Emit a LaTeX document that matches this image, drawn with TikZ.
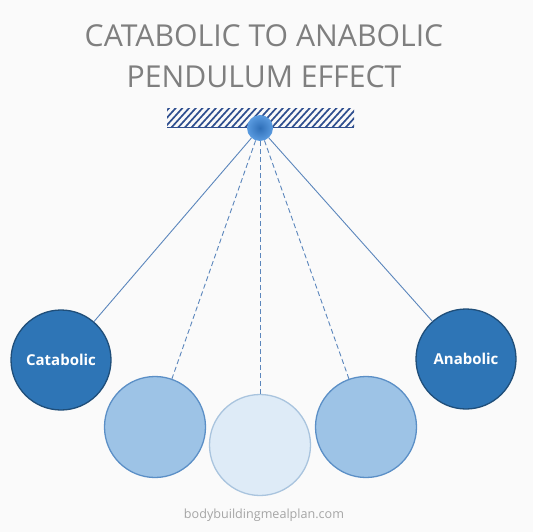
\documentclass[tikz,border=0pt]{standalone}
\usepackage{fontspec}
\setmainfont{Open Sans}
\usetikzlibrary{calc}
\definecolor{bgc}{HTML}{FAFAFA}
\definecolor{darkfill}{HTML}{2E75B6}
\definecolor{darkedge}{HTML}{1F4E79}
\definecolor{midfill}{HTML}{9DC3E6}
\definecolor{midedge}{HTML}{5B8FC6}
\definecolor{lightfill}{HTML}{DEEBF7}
\definecolor{lightedge}{HTML}{A9C4DE}
\definecolor{rope}{HTML}{5B86BC}
\definecolor{hatchc}{HTML}{2F4F8F}
\definecolor{titlec}{HTML}{7F7F7F}
\definecolor{ballout}{HTML}{5A9BE0}
\definecolor{ballin}{HTML}{2F6FB8}
\tikzset{
  bob/.style={circle, minimum size=#1, inner sep=0pt, line width=1.3pt},
  darkbob/.style={bob=100pt, fill=darkfill, draw=darkedge, text=white, font=\fontsize{15}{18}\selectfont\bfseries},
  midbob/.style={bob=101pt, fill=midfill, draw=midedge},
  lightbob/.style={bob=101pt, fill=lightfill, draw=lightedge},
  ropesolid/.style={draw=rope, line width=0.9pt},
  ropedash/.style={draw=rope, line width=0.9pt, dash pattern=on 5pt off 3pt},
}
\begin{document}
\begin{tikzpicture}[x=1pt,y=-1pt]
\fill[bgc] (0,0) rectangle (533,532);
\useasboundingbox (0,0) rectangle (533,532);
% title
\node[text=titlec, font=\fontsize{30.2}{41}\selectfont, anchor=base] (t1) at (264,47) {CATABOLIC TO ANABOLIC};
\node[text=titlec, font=\fontsize{30.2}{41}\selectfont, anchor=base] (t2) at (264,88) {PENDULUM EFFECT};
% hatch bar
\begin{scope}
\clip (167,109) rectangle (354,127);
\foreach \i in {0,...,32} {
  \draw[hatchc, line width=1.7pt] ({150+\i*6.7},129) -- ({170+\i*6.7},107);
}
\end{scope}
\draw[hatchc, line width=1.2pt] (167,127.5) -- (354,127.5);
% bobs
\node[darkbob] (cat) at (61,360) {Catabolic};
\node[midbob] (b2) at (155,427) {};
\node[lightbob] (b3) at (260,445) {};
\node[midbob] (b4) at (366,427) {};
\node[darkbob] (ana) at (466,359) {Anabolic};
% pivot
\node[circle, minimum size=26pt, inner sep=0pt, inner color=ballin, outer color=ballout] (piv) at (260,128) {};
% ropes
\draw[ropesolid] (piv) -- (cat);
\draw[ropesolid] (piv) -- (ana);
\draw[ropedash] (piv) -- (b2);
\draw[ropedash] (piv) -- (b3);
\draw[ropedash] (piv) -- (b4);
% footer
\node[text=titlec!70, font=\fontsize{12.6}{15}\selectfont, anchor=base] (foot) at (264,518) {bodybuildingmealplan.com};
\end{tikzpicture}
\end{document}
